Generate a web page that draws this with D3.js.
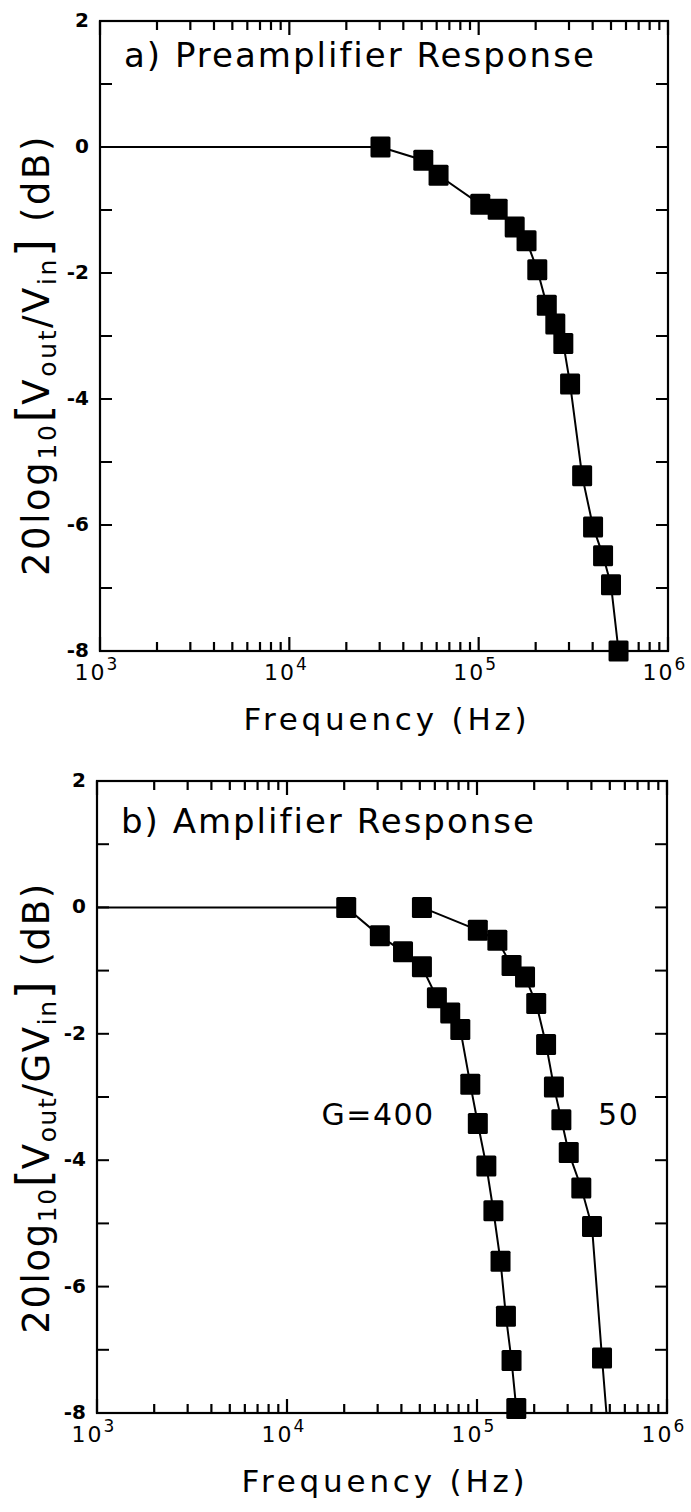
<!DOCTYPE html>
<html>
<head>
<meta charset="utf-8">
<script src="https://cdn.jsdelivr.net/npm/d3@7"></script>
<style>
  html, body { margin: 0; padding: 0; background: #fff; }
  svg { display: block; font-family: "DejaVu Sans", sans-serif; }
</style>
</head>
<body>
<script>
// panel a: preamplifier response
const preFreq = [30.3e3, 51e3, 61.4e3, 102e3, 126e3, 155e3, 179e3, 204e3, 229e3, 254e3, 280e3, 304e3, 352e3, 402e3, 454e3, 500e3, 548e3];
const preGain = [0, -0.21, -0.45, -0.91, -0.99, -1.27, -1.49, -1.95, -2.51, -2.81, -3.12, -3.76, -5.22, -6.03, -6.49, -6.95, -8.0];

// panel b: amplifier response, G=400 and G=50
const g400Freq = [20.5e3, 30.8e3, 40.8e3, 51.3e3, 61.5e3, 72.3e3, 81.7e3, 92.2e3, 101e3, 112e3, 122e3, 133e3, 142e3, 152e3, 161e3];
const g400Gain = [0, -0.45, -0.70, -0.94, -1.43, -1.67, -1.93, -2.80, -3.42, -4.09, -4.80, -5.60, -6.47, -7.17, -7.93];
const g50Freq = [51.3e3, 101e3, 128e3, 152e3, 179e3, 205e3, 231e3, 254e3, 278e3, 304e3, 354e3, 403e3, 455e3];
const g50Gain = [0, -0.36, -0.52, -0.92, -1.10, -1.52, -2.17, -2.84, -3.36, -3.88, -4.44, -5.05, -7.13];

// line-only points (no marker): flat start at 1 kHz, G=50 line runs off the bottom
const flatStart = { f: 1e3, db: 0 };
const g50LineEnd = { f: 480e3, db: -8 };

const xDecades = [1e3, 1e4, 1e5, 1e6];
const minorMult = [2, 3, 4, 5, 6, 7, 8, 9];
const yTicksLabeled = [2, 0, -2, -4, -6, -8];
const yTicksAll = d3.range(-8, 3, 1);

const minorTicks = d3.merge(xDecades.slice(0, 3).map(dec => minorMult.map(m => m * dec)));

const svg = d3.select("body").append("svg").attr("width", 691).attr("height", 1512);

function vTicks(x, values, y1, y2) {
  svg.append("g").attr("stroke", "#000").attr("stroke-width", 2.2)
    .selectAll("line").data(values).enter().append("line")
    .attr("x1", d => x(d)).attr("x2", d => x(d)).attr("y1", y1).attr("y2", y2);
}

function drawPanel(cfg) {
  const x = d3.scaleLog().domain([1e3, 1e6]).range([cfg.left, cfg.right]);
  const y = d3.scaleLinear().domain([-8, 2]).range([cfg.bottom, cfg.top]);
  const g = svg.append("g");

  // frame
  g.append("rect")
    .attr("x", cfg.left).attr("y", cfg.top)
    .attr("width", cfg.right - cfg.left).attr("height", cfg.bottom - cfg.top)
    .attr("fill", "none").attr("stroke", "#000").attr("stroke-width", 2.2);

  // inward ticks, bottom and top
  vTicks(x, minorTicks, cfg.bottom, cfg.bottom - 9);
  vTicks(x, xDecades, cfg.bottom, cfg.bottom - 14);
  vTicks(x, minorTicks, cfg.top, cfg.top + 9);
  vTicks(x, xDecades, cfg.top, cfg.top + 14);

  // inward ticks, left and right
  [[cfg.left, 1], [cfg.right, -1]].forEach(([x0, dir]) => {
    svg.append("g").attr("stroke", "#000").attr("stroke-width", 2)
      .selectAll("line").data(yTicksAll).enter().append("line")
      .attr("x1", x0).attr("x2", x0 + dir * 12)
      .attr("y1", d => y(d)).attr("y2", d => y(d));
  });

  // y tick labels
  g.selectAll(".ylab").data(yTicksLabeled).enter().append("text")
    .attr("x", cfg.left - 11).attr("y", d => y(d) + 6)
    .attr("text-anchor", "end").attr("font-size", 20).attr("font-weight", "bold")
    .text(d => d < 0 ? "-" + Math.abs(d) : d);

  // x tick labels 10^n
  xDecades.forEach(v => {
    const t = g.append("text")
      .attr("x", x(v) - 4).attr("y", cfg.bottom + 29)
      .attr("text-anchor", "middle").attr("font-size", 22).attr("letter-spacing", 2);
    t.append("tspan").text("10");
    t.append("tspan").attr("dy", -10).attr("font-size", 17).attr("letter-spacing", 0).text(Math.round(Math.log10(v)));
  });

  // x axis title
  g.append("text")
    .attr("x", (cfg.left + cfg.right) / 2 + 3).attr("y", cfg.bottom + 79)
    .attr("text-anchor", "middle").attr("font-size", 31).attr("letter-spacing", 3.8)
    .text("Frequency (Hz)");

  // panel title
  g.append("text")
    .attr("x", cfg.left + 24).attr("y", cfg.titleY)
    .attr("font-size", 34).attr("letter-spacing", 2)
    .text(cfg.title);

  // y axis title
  const ty = g.append("text")
    .attr("transform", `translate(49,${(cfg.top + cfg.bottom) / 2 + cfg.yTitleShift}) rotate(-90)`)
    .attr("text-anchor", "middle").attr("font-size", 37).attr("letter-spacing", cfg.yTitleSpacing);
  ty.append("tspan").text("20log");
  ty.append("tspan").attr("dy", 7).attr("font-size", 25).text("10");
  ty.append("tspan").attr("dy", -7).attr("font-size", 46).attr("letter-spacing", 0).text("[");
  ty.append("tspan").text("V");
  ty.append("tspan").attr("dy", 7).attr("font-size", 25).text("out");
  ty.append("tspan").attr("dy", -7).text("/" + cfg.vin);
  ty.append("tspan").attr("dy", 7).attr("font-size", 25).text("in");
  ty.append("tspan").attr("dy", -7).attr("font-size", 46).text("]");
  ty.append("tspan").text("\u00a0(dB)");

  const line = d3.line().x(d => x(d.f)).y(d => y(d.db));
  cfg.series.forEach(s => {
    const pts = s.freq.map((f, i) => ({ f, db: s.gain[i] }));
    const linePts = [...(s.start ? [s.start] : []), ...pts, ...(s.end ? [s.end] : [])];
    g.append("path").datum(linePts).attr("d", line)
      .attr("fill", "none").attr("stroke", "#000").attr("stroke-width", 2);
    g.selectAll(null).data(pts).enter().append("rect")
      .attr("x", d => x(d.f) - 10).attr("y", d => y(d.db) - 10.5)
      .attr("width", 20).attr("height", 21).attr("rx", 1.5)
      .attr("fill", "#000");
  });
  return { x, y, g };
}

drawPanel({
  left: 100, right: 668, top: 21, bottom: 651, titleY: 67,
  yTitleShift: 19, yTitleSpacing: 2.6,
  title: "a) Preamplifier Response", vin: "V",
  series: [{ freq: preFreq, gain: preGain, start: flatStart }]
});

const pb = drawPanel({
  left: 97, right: 667, top: 781, bottom: 1413, titleY: 833,
  yTitleShift: 11, yTitleSpacing: 1.6,
  title: "b) Amplifier Response", vin: "GV",
  series: [
    { freq: g400Freq, gain: g400Gain, start: flatStart },
    { freq: g50Freq, gain: g50Gain, end: g50LineEnd }
  ]
});

// curve labels
pb.g.append("text").attr("x", pb.x(15.2e3)).attr("y", pb.y(-3.45))
  .attr("font-size", 30).attr("letter-spacing", 1.5).text("G=400");
pb.g.append("text").attr("x", pb.x(434e3)).attr("y", pb.y(-3.45))
  .attr("font-size", 30).attr("letter-spacing", 1.5).text("50");
</script>
</body>
</html>
